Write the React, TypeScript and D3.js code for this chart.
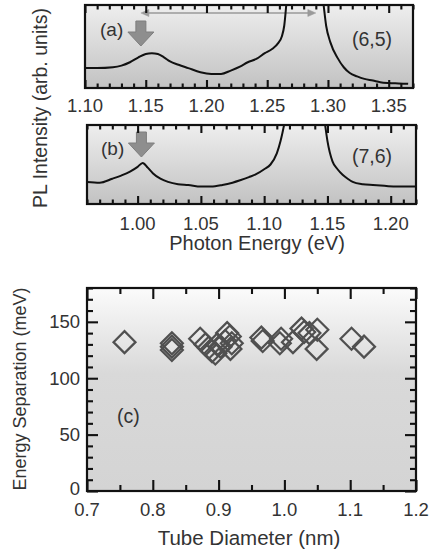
import React, { useEffect, useRef } from "react";
import * as d3 from "d3";

// ---------- data ----------
// Panel (a): (6,5) PL spectrum
const energyA = [1.100, 1.110, 1.123, 1.130, 1.137, 1.144, 1.150, 1.155, 1.160, 1.165, 1.170, 1.177, 1.185, 1.195, 1.204, 1.212, 1.220, 1.228, 1.234, 1.241, 1.248, 1.254, 1.259, 1.262, 1.264, 1.266, 1.270, 1.280, 1.290, 1.296, 1.2985, 1.302, 1.308, 1.313, 1.318, 1.324, 1.330, 1.337, 1.343, 1.350, 1.358, 1.366];
const intensityA = [0.24, 0.24, 0.25, 0.27, 0.31, 0.37, 0.41, 0.42, 0.41, 0.37, 0.32, 0.28, 0.24, 0.19, 0.17, 0.17, 0.21, 0.26, 0.31, 0.35, 0.42, 0.47, 0.54, 0.62, 0.75, 1.05, 1.6, 3.0, 1.6, 1.05, 0.75, 0.55, 0.36, 0.25, 0.18, 0.14, 0.11, 0.09, 0.07, 0.06, 0.055, 0.05];
// Panel (b): (7,6) PL spectrum
const energyB = [0.960, 0.970, 0.980, 0.987, 0.994, 1.000, 1.004, 1.008, 1.012, 1.018, 1.024, 1.032, 1.040, 1.050, 1.058, 1.067, 1.075, 1.081, 1.088, 1.094, 1.100, 1.105, 1.110, 1.113, 1.116, 1.122, 1.132, 1.142, 1.148, 1.150, 1.154, 1.158, 1.162, 1.166, 1.170, 1.178, 1.186, 1.195, 1.205, 1.220];
const intensityB = [0.28, 0.27, 0.32, 0.36, 0.41, 0.47, 0.52, 0.46, 0.39, 0.32, 0.28, 0.25, 0.24, 0.22, 0.22, 0.24, 0.27, 0.30, 0.34, 0.38, 0.44, 0.50, 0.64, 0.80, 1.02, 1.6, 3.0, 1.6, 1.02, 0.80, 0.54, 0.44, 0.37, 0.32, 0.28, 0.25, 0.24, 0.23, 0.22, 0.22];
// Panel (c): energy separation vs tube diameter
const diameter = [0.757, 0.829, 0.829, 0.829, 0.872, 0.880, 0.885, 0.890, 0.895, 0.898, 0.903, 0.910, 0.913, 0.917, 0.918, 0.920, 0.965, 0.967, 0.993, 0.995, 1.013, 1.026, 1.030, 1.038, 1.050, 1.049, 1.102, 1.121];
const separation = [132, 131, 128, 125, 135, 130, 127, 124, 122, 130, 128, 133, 140, 137, 126, 131, 136, 133, 131, 135, 132, 144, 141, 140, 143, 126, 135, 128];

const ticksA = [1.10, 1.15, 1.20, 1.25, 1.30, 1.35];
const ticksB = [1.00, 1.05, 1.10, 1.15, 1.20];
const ticksCx = [0.7, 0.8, 0.9, 1.0, 1.1, 1.2];
const ticksCy = [0, 50, 100, 150];

const FONT = "'Liberation Sans', Arial, sans-serif";
const TXT = "#333";
const TICK = "#111";

const styleAxis = (s: any) => {
  s.select(".domain").remove();
  s.selectAll("text").remove();
  s.selectAll("line").attr("stroke", TICK).attr("stroke-width", 2.1);
};

type SpecProps = {
  id: string;
  x0: number; x1: number; y0: number; y1: number;
  domain: [number, number];
  energy: number[]; intensity: number[];
  ticks: number[];
  label: string; chir: string;
  labelPos: [number, number]; chirPos: [number, number];
  arrowE: number; arrowTop: number;
  tickBase: number;
  sepArrow?: [number, number];
};

function Spectrum(p: SpecProps) {
  const x = d3.scaleLinear().domain(p.domain).range([p.x0, p.x1]);
  const y = d3.scaleLinear().domain([0, 1]).range([p.y1, p.y0]);
  const line = d3.line<number>()
    .x((_, i) => x(p.energy[i]))
    .y((d) => y(d))
    .curve(d3.curveMonotoneX);
  const axRef = useRef<SVGGElement>(null);
  useEffect(() => {
    if (!axRef.current) return;
    const g = d3.select(axRef.current);
    g.selectAll("*").remove();
    const minor = d3.range(Math.ceil(p.domain[0] * 100 - 1e-6), Math.floor(p.domain[1] * 100 + 1e-6) + 1)
      .filter((k) => k % 5 !== 0).map((k) => k / 100);
    g.append("g").attr("transform", `translate(0,${p.y1})`)
      .call(d3.axisBottom(x).tickValues(minor).tickSizeInner(-4.5) as any).call(styleAxis);
    g.append("g").attr("transform", `translate(0,${p.y1})`)
      .call(d3.axisBottom(x).tickValues(p.ticks).tickSizeInner(-8) as any).call(styleAxis);
    g.append("g").attr("transform", `translate(0,${p.y0})`)
      .call(d3.axisTop(x).tickValues(minor).tickSizeInner(-4.5) as any).call(styleAxis);
    g.append("g").attr("transform", `translate(0,${p.y0})`)
      .call(d3.axisTop(x).tickValues(p.ticks).tickSizeInner(-8) as any).call(styleAxis);
  }, []);
  const ax = x(p.arrowE);
  const t = p.arrowTop;
  const arrowPath = `M${ax - 5},${t} L${ax + 5},${t} L${ax + 5},${t + 11} L${ax + 13},${t + 11} L${ax},${t + 25} L${ax - 13},${t + 11} L${ax - 5},${t + 11} Z`;
  return (
    <g>
      <defs>
        <linearGradient id={p.id + "g"} x1="0" y1="0" x2="0" y2="1">
          <stop offset="0%" stopColor="#eeeeee" />
          <stop offset="100%" stopColor="#c2c2c2" />
        </linearGradient>
        <clipPath id={p.id + "c"}>
          <rect x={p.x0} y={p.y0} width={p.x1 - p.x0} height={p.y1 - p.y0} />
        </clipPath>
      </defs>
      <rect x={p.x0} y={p.y0} width={p.x1 - p.x0} height={p.y1 - p.y0} fill={`url(#${p.id}g)`} />
      {p.sepArrow && (
        <g stroke="#9a9a9a" fill="#9a9a9a">
          <line x1={x(p.sepArrow[0]) + 4} x2={x(p.sepArrow[1]) - 4} y1={p.y0 + 8} y2={p.y0 + 8} strokeWidth={1.5} />
          <path d={`M${x(p.sepArrow[0])},${p.y0 + 8} l8,-3.5 l0,7 Z`} strokeWidth={0.5} />
          <path d={`M${x(p.sepArrow[1])},${p.y0 + 8} l-8,-3.5 l0,7 Z`} strokeWidth={0.5} />
        </g>
      )}
      <path d={line(p.intensity) || ""} fill="none" stroke="#111" strokeWidth={2} clipPath={`url(#${p.id}c)`} strokeLinejoin="round" />
      <path d={arrowPath} fill="#8e8e8e" stroke="#7e7e7e" strokeWidth={1} />
      <g ref={axRef} />
      <rect x={p.x0} y={p.y0} width={p.x1 - p.x0} height={p.y1 - p.y0} fill="none" stroke="#111" strokeWidth={2.2} />
      {p.ticks.map((v) => (
        <text key={v} x={x(v)} y={p.tickBase} textAnchor="middle" fontSize={18.5} fill={TXT} fontFamily={FONT}>
          {v.toFixed(2)}
        </text>
      ))}
      <text x={p.labelPos[0]} y={p.labelPos[1]} fontSize={19} fill={TXT} fontFamily={FONT}>{p.label}</text>
      <text x={p.chirPos[0]} y={p.chirPos[1]} fontSize={19.5} fill={TXT} fontFamily={FONT}>{p.chir}</text>
    </g>
  );
}

function Scatter() {
  const x0 = 87, x1 = 416, y0 = 288, y1 = 491;
  const x = d3.scaleLinear().domain([0.7, 1.2]).range([x0, x1]);
  const y = d3.scaleLinear().domain([0, 180]).range([y1, y0]);
  const r = 11;
  const axRef = useRef<SVGGElement>(null);
  useEffect(() => {
    if (!axRef.current) return;
    const g = d3.select(axRef.current);
    g.selectAll("*").remove();
    const xMinor = d3.range(14, 25).filter((k) => k % 2 === 1).map((k) => k / 20);
    const yMinor = d3.range(0, 181, 10).filter((v) => v % 50 !== 0);
    const yMajor = [0, 50, 100, 150];
    g.append("g").attr("transform", `translate(0,${y1})`)
      .call(d3.axisBottom(x).tickValues(xMinor).tickSizeInner(-6) as any).call(styleAxis);
    g.append("g").attr("transform", `translate(0,${y1})`)
      .call(d3.axisBottom(x).tickValues(ticksCx).tickSizeInner(-11) as any).call(styleAxis);
    g.append("g").attr("transform", `translate(0,${y0})`)
      .call(d3.axisTop(x).tickValues(xMinor).tickSizeInner(-6) as any).call(styleAxis);
    g.append("g").attr("transform", `translate(0,${y0})`)
      .call(d3.axisTop(x).tickValues(ticksCx).tickSizeInner(-11) as any).call(styleAxis);
    g.append("g").attr("transform", `translate(${x0},0)`)
      .call(d3.axisLeft(y).tickValues(yMinor).tickSizeInner(-6) as any).call(styleAxis);
    g.append("g").attr("transform", `translate(${x0},0)`)
      .call(d3.axisLeft(y).tickValues(yMajor).tickSizeInner(-11) as any).call(styleAxis);
    g.append("g").attr("transform", `translate(${x1},0)`)
      .call(d3.axisRight(y).tickValues(yMinor).tickSizeInner(-6) as any).call(styleAxis);
    g.append("g").attr("transform", `translate(${x1},0)`)
      .call(d3.axisRight(y).tickValues(yMajor).tickSizeInner(-11) as any).call(styleAxis);
  }, []);
  return (
    <g>
      <defs>
        <linearGradient id="cg" x1="0" y1="0" x2="0" y2="1">
          <stop offset="0%" stopColor="#fbfbfb" />
          <stop offset="42%" stopColor="#d9d9d9" />
          <stop offset="100%" stopColor="#d4d4d4" />
        </linearGradient>
      </defs>
      <rect x={x0} y={y0} width={x1 - x0} height={y1 - y0} fill="url(#cg)" />
      {diameter.map((d, i) => {
        const cx = x(d), cy = y(separation[i]);
        return (
          <path key={i} d={`M${cx},${cy - r} L${cx + r},${cy} L${cx},${cy + r} L${cx - r},${cy} Z`} fill="none" stroke="#505050" strokeWidth={2.2} />
        );
      })}
      <g ref={axRef} />
      <rect x={x0} y={y0} width={x1 - x0} height={y1 - y0} fill="none" stroke="#111" strokeWidth={2.2} />
      {ticksCx.map((v) => (
        <text key={v} x={x(v)} y={516} textAnchor="middle" fontSize={18.5} fill={TXT} fontFamily={FONT}>{v.toFixed(1)}</text>
      ))}
      {ticksCy.map((v) => (
        <text key={v} x={80} y={y(v) + (v === 0 ? 4 : 6.5)} textAnchor="end" fontSize={18.5} fill={TXT} fontFamily={FONT}>{v}</text>
      ))}
      <text x={117} y={423} fontSize={19.5} fill={TXT} fontFamily={FONT}>(c)</text>
      <text x={249} y={545} textAnchor="middle" fontSize={20.5} fill={TXT} fontFamily={FONT}>Tube Diameter (nm)</text>
      <text transform="translate(26,389) rotate(-90)" textAnchor="middle" fontSize={18} fill={TXT} fontFamily={FONT}>Energy Separation (meV)</text>
    </g>
  );
}

export default function App() {
  return (
    <svg width={436} height={555} style={{ position: "absolute", left: 0, top: 0, background: "#fff" }}>
      <rect x={0} y={0} width={436} height={555} fill="#fff" />
      <Spectrum
        id="a" x0={85} x1={413} y0={5} y1={88} domain={[1.10, 1.37]}
        energy={energyA} intensity={intensityA} ticks={ticksA}
        label="(a)" chir="(6,5)" labelPos={[100, 36]} chirPos={[352, 46]}
        arrowE={1.146} arrowTop={21} tickBase={112} sepArrow={[1.146, 1.29]}
      />
      <Spectrum
        id="b" x0={87} x1={416} y0={125} y1={204} domain={[0.96, 1.22]}
        energy={energyB} intensity={intensityB} ticks={ticksB}
        label="(b)" chir="(7,6)" labelPos={[101, 155]} chirPos={[352, 163]}
        arrowE={1.003} arrowTop={132} tickBase={230}
      />
      <text x={257} y={250} textAnchor="middle" fontSize={20} fill={TXT} fontFamily={FONT}>Photon Energy (eV)</text>
      <text transform="translate(47,108) rotate(-90)" textAnchor="middle" fontSize={19.5} fill={TXT} fontFamily={FONT}>PL Intensity (arb. units)</text>
      <Scatter />
    </svg>
  );
}
